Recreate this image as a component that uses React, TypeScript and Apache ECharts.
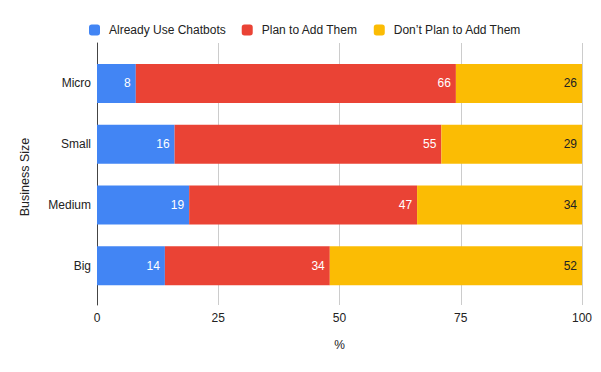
import React, { useEffect, useRef } from "react";
import * as echarts from "echarts";

const categories = ["Micro", "Small", "Medium", "Big"];
const alreadyUse = [8, 16, 19, 14];
const planToAdd = [66, 55, 47, 34];
const dontPlan = [26, 29, 34, 52];
const xTicks = [0, 25, 50, 75, 100];

const FONT = "Arial, 'Liberation Sans', sans-serif";

export default function App() {
  const ref = useRef<HTMLDivElement>(null);
  useEffect(() => {
    document.body.style.margin = "0";
    if (!ref.current) return;
    const chart = echarts.init(ref.current, undefined, { renderer: "svg" });
    const labelBase = {
      show: true,
      position: "insideRight" as const,
      distance: 5,
      fontSize: 12,
      fontFamily: FONT,
    };
    chart.setOption({
      animation: false,
      textStyle: { fontFamily: FONT },
      legend: {
        left: 84,
        top: 19,
        itemWidth: 11,
        itemHeight: 11,
        itemGap: 16,
        icon: "roundRect",
        textStyle: { fontSize: 12, color: "#222", fontFamily: FONT, padding: [0, 0, 0, 4] },
        data: ["Already Use Chatbots", "Plan to Add Them", "Don’t Plan to Add Them"],
      },
      grid: [
        { left: 97, right: 19, top: 43, bottom: 67 },
        { left: 97, right: 19, top: 53, bottom: 76 },
      ],
      xAxis: [
        {
          gridIndex: 0,
          type: "value",
          min: xTicks[0],
          max: xTicks[xTicks.length - 1],
          interval: 25,
          axisLine: { show: false },
          axisTick: { show: false },
          splitLine: { show: true, lineStyle: { color: "#cccccc", width: 1 } },
          axisLabel: { fontSize: 12, color: "#222", margin: 7, fontFamily: FONT },
          name: "%",
          nameLocation: "middle",
          nameGap: 34,
          nameTextStyle: { fontSize: 12, color: "#222", fontFamily: FONT },
        },
        {
          gridIndex: 1,
          type: "value",
          min: 0,
          max: 100,
          show: false,
          splitLine: { show: false },
        },
      ],
      yAxis: [
        {
          gridIndex: 0,
          type: "value",
          axisLine: { show: true, lineStyle: { color: "#444", width: 1 } },
          axisTick: { show: false },
          axisLabel: { show: false },
          splitLine: { show: false },
        },
        {
          gridIndex: 1,
          type: "category",
          data: categories,
          inverse: true,
          axisLine: { show: false },
          axisTick: { show: false },
          axisLabel: { fontSize: 12, color: "#222", margin: 6, fontFamily: FONT },
        },
      ],
      graphic: [
        {
          type: "text",
          x: 25,
          y: 177,
          rotation: Math.PI / 2,
          style: {
            text: "Business Size",
            fontSize: 12.5,
            fill: "#222",
            fontFamily: FONT,
            textAlign: "center",
            textVerticalAlign: "middle",
          },
        },
      ],
      series: [
        {
          name: "Already Use Chatbots",
          type: "bar",
          stack: "s",
          xAxisIndex: 1,
          yAxisIndex: 1,
          barWidth: 39,
          data: alreadyUse,
          itemStyle: { color: "#4285F4" },
          label: { ...labelBase, color: "#fff" },
        },
        {
          name: "Plan to Add Them",
          type: "bar",
          stack: "s",
          xAxisIndex: 1,
          yAxisIndex: 1,
          barWidth: 39,
          data: planToAdd,
          itemStyle: { color: "#EA4335" },
          label: { ...labelBase, color: "#fff" },
        },
        {
          name: "Don’t Plan to Add Them",
          type: "bar",
          stack: "s",
          xAxisIndex: 1,
          yAxisIndex: 1,
          barWidth: 39,
          data: dontPlan,
          itemStyle: { color: "#FBBC04" },
          label: { ...labelBase, color: "#222" },
        },
      ],
    });
    return () => chart.dispose();
  }, []);
  return <div ref={ref} style={{ width: 601, height: 372 }} />;
}
